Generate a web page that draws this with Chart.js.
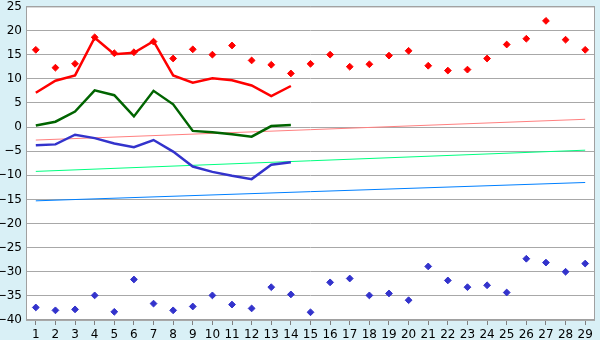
<!DOCTYPE html>
<html>
<head>
<meta charset="utf-8">
<script src="https://cdn.jsdelivr.net/npm/chart.js@4"></script>
<style>
  html, body { margin: 0; padding: 0; background: #d9f0f6; }
  #wrap { width: 600px; height: 340px; }
</style>
</head>
<body>
<div id="wrap"><canvas id="myChart"></canvas></div>
<script>
// categories 1..29
const labels = ['1','2','3','4','5','6','7','8','9','10','11','12','13','14','15',
    '16','17','18','19','20','21','22','23','24','25','26','27','28','29'];

const redLine = [7.1, 9.6, 10.7, 18.5, 15.1, 15.4, 17.8, 10.7, 9.2, 10.1, 9.7, 8.6, 6.4, 8.5];
const greenLine = [0.3, 1.1, 3.2, 7.6, 6.6, 2.2, 7.5, 4.7, -0.8, -1.1, -1.5, -2.0, 0.2, 0.4];
const blueLine = [-3.8, -3.6, -1.6, -2.3, -3.4, -4.2, -2.7, -5.1, -8.2, -9.3, -10.1, -10.8, -7.8, -7.3];

const redPoints = [16.0, 12.3, 13.1, 18.6, 15.3, 15.5, 17.7, 14.2, 16.1, 15.0, 16.9, 13.8, 12.9, 11.1, 13.1,
    15.0, 12.5, 13.0, 14.8, 15.8, 12.7, 11.7, 11.9, 14.2, 17.1, 18.3, 22.0, 18.1, 16.0];
const bluePoints = [-37.4, -38.0, -37.8, -34.9, -38.3, -31.6, -36.6, -38.0, -37.2, -34.9, -36.8, -37.6, -33.2, -34.7, -38.4,
    -32.2, -31.4, -34.9, -34.5, -35.9, -28.9, -31.8, -33.2, -32.8, -34.3, -27.3, -28.1, -30.0, -28.3];

// trend lines: value at category 1 and at category 29
const pinkTrend = [-2.7, 1.6];
const greenTrend = [-9.2, -4.8];
const blueTrend = [-15.3, -11.5];

function ends(pair) {
    const arr = labels.map(() => null);
    arr[0] = pair[0];
    arr[labels.length - 1] = pair[1];
    return arr;
}

const plotFrame = {
    id: 'plotFrame',
    beforeDraw(chart) {
        const a = chart.chartArea, ctx = chart.ctx;
        ctx.save();
        ctx.fillStyle = '#ffffff';
        ctx.fillRect(a.left, a.top, a.right - a.left, a.bottom - a.top);
        ctx.restore();
    },
    afterDatasetsDraw(chart) {
        const a = chart.chartArea, ctx = chart.ctx;
        ctx.save();
        ctx.strokeStyle = '#a0a0a0';
        ctx.lineWidth = 1;
        ctx.strokeRect(a.left + 0.5, a.top + 0.5, a.right - a.left - 1, a.bottom - a.top - 1);
        ctx.restore();
    }
};

function trend(color, pair) {
    return { type: 'line', data: ends(pair), borderColor: color, borderWidth: 1,
        pointRadius: 0, spanGaps: true, order: 5 };
}
function line(color, values) {
    return { type: 'line', data: values, borderColor: color, borderWidth: 2.5,
        pointRadius: 0, tension: 0, order: 3 };
}
function dots(color, values) {
    return { type: 'line', data: values, showLine: false, pointStyle: 'rectRot',
        pointRadius: 3.4, pointBackgroundColor: color, pointBorderColor: color,
        pointBorderWidth: 1, order: 1 };
}

const config = {
    type: 'line',
    data: {
        labels: labels,
        datasets: [
            trend('#ff8080', pinkTrend),
            trend('#00ff80', greenTrend),
            trend('#0080ff', blueTrend),
            line('#ff0000', redLine),
            line('#006400', greenLine),
            line('#3333cc', blueLine),
            dots('#ff0000', redPoints),
            dots('#3333cc', bluePoints),
        ]
    },
    options: {
        responsive: true,
        maintainAspectRatio: false,
        animation: false,
        layout: { padding: { top: 5, right: 5, left: 0, bottom: 0 } },
        plugins: { legend: { display: false }, tooltip: { enabled: false } },
        scales: {
            x: {
                offset: true,
                grid: { drawOnChartArea: false, tickLength: 5, color: '#808080', offset: false },
                border: { display: false },
                ticks: { color: '#000', font: { family: 'DejaVu Sans', size: 12 }, padding: 3,
                    autoSkip: false, maxRotation: 0 },
                afterFit(s) { s.height = 20; }
            },
            y: {
                min: -40,
                max: 25,
                grid: { color: '#a8a8a8', drawTicks: false },
                border: { display: false },
                ticks: { stepSize: 5, color: '#000', font: { family: 'DejaVu Sans', size: 12, lineHeight: 0.4 },
                    padding: 4, callback: v => String(v).replace('-', '\u2212') },
                afterFit(s) { s.width = 26; }
            }
        }
    },
    plugins: [plotFrame]
};

const myChart = new Chart(document.getElementById('myChart'), config);
</script>
</body>
</html>
